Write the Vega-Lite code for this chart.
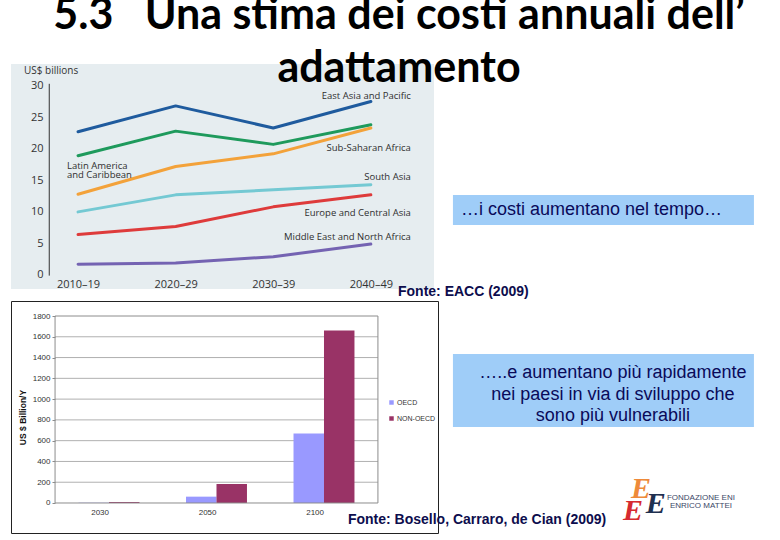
{
  "$schema": "https://vega.github.io/schema/vega-lite/v6.json",
  "padding": {"left": 10, "top": -5, "right": 0, "bottom": 0},
  "background": "white",
  "title": {
    "text": ["5.3\u00a0\u00a0\u00a0Una stima dei costi annuali dell’", "adattamento"],
    "font": "Lato",
    "fontSize": 43,
    "fontWeight": "bold",
    "color": "#000000",
    "lineHeight": 53,
    "anchor": "start",
    "align": "center",
    "frame": "group",
    "dx": 388,
    "offset": -27
  },
  "datasets": {
    "costs": [
      {"region": "East Asia and Pacific", "period": 2010, "value": 22.7},
      {"region": "East Asia and Pacific", "period": 2020, "value": 26.8},
      {"region": "East Asia and Pacific", "period": 2030, "value": 23.3},
      {"region": "East Asia and Pacific", "period": 2040, "value": 27.5},
      {"region": "Sub-Saharan Africa", "period": 2010, "value": 18.9},
      {"region": "Sub-Saharan Africa", "period": 2020, "value": 22.8},
      {"region": "Sub-Saharan Africa", "period": 2030, "value": 20.7},
      {"region": "Sub-Saharan Africa", "period": 2040, "value": 23.8},
      {"region": "Latin America and Caribbean", "period": 2010, "value": 12.8},
      {"region": "Latin America and Caribbean", "period": 2020, "value": 17.2},
      {"region": "Latin America and Caribbean", "period": 2030, "value": 19.2},
      {"region": "Latin America and Caribbean", "period": 2040, "value": 23.3},
      {"region": "South Asia", "period": 2010, "value": 10.0},
      {"region": "South Asia", "period": 2020, "value": 12.7},
      {"region": "South Asia", "period": 2030, "value": 13.5},
      {"region": "South Asia", "period": 2040, "value": 14.3},
      {"region": "Europe and Central Asia", "period": 2010, "value": 6.4},
      {"region": "Europe and Central Asia", "period": 2020, "value": 7.7},
      {"region": "Europe and Central Asia", "period": 2030, "value": 10.8},
      {"region": "Europe and Central Asia", "period": 2040, "value": 12.7},
      {"region": "Middle East and North Africa", "period": 2010, "value": 1.7},
      {"region": "Middle East and North Africa", "period": 2020, "value": 1.9},
      {"region": "Middle East and North Africa", "period": 2030, "value": 2.9},
      {"region": "Middle East and North Africa", "period": 2040, "value": 4.9}
    ],
    "regionLabels": [
      {"region": "East Asia and Pacific", "label": "East Asia and Pacific", "labelValue": 28.4},
      {"region": "Sub-Saharan Africa", "label": "Sub-Saharan Africa", "labelValue": 20.1},
      {"region": "Latin America and Caribbean", "label": "Latin America\nand Caribbean", "labelValue": 17.27},
      {"region": "South Asia", "label": "South Asia", "labelValue": 15.5},
      {"region": "Europe and Central Asia", "label": "Europe and Central Asia", "labelValue": 9.83},
      {"region": "Middle East and North Africa", "label": "Middle East and North Africa", "labelValue": 5.97}
    ],
    "adapt": [
      {"year": "2030", "group": "OECD", "cost": 2},
      {"year": "2030", "group": "NON-OECD", "cost": 9},
      {"year": "2050", "group": "OECD", "cost": 61},
      {"year": "2050", "group": "NON-OECD", "cost": 183},
      {"year": "2100", "group": "OECD", "cost": 670},
      {"year": "2100", "group": "NON-OECD", "cost": 1660}
    ],
    "barTicks": [
      {"tick": 200}, {"tick": 400}, {"tick": 600}, {"tick": 800}, {"tick": 1000},
      {"tick": 1200}, {"tick": 1400}, {"tick": 1600}
    ]
  },
  "bounds": "flush",
  "spacing": 12,
  "resolve": {"scale": {"color": "independent"}},
  "vconcat": [
    {
      "width": 423,
      "height": 225,
      "view": {"fill": "#e6edf0", "stroke": null},
      "layer": [
        {
          "data": {"name": "costs"},
          "mark": {"type": "line", "strokeWidth": 3, "strokeCap": "round", "strokeJoin": "round"},
          "encoding": {
            "x": {
              "field": "period", "type": "quantitative",
              "scale": {"domain": [2003.13, 2046.47], "nice": false, "zero": false},
              "axis": {"orient": "bottom", "offset": -14, "values": [2010, 2020, 2030, 2040], "tickCount": 20,
                "labelExpr": "datum.value + '–' + (datum.value - 1991)",
                "domain": false, "ticks": false, "grid": false, "labelPadding": 3,
                "labelFont": "Open Sans", "labelFontSize": 11, "labelColor": "#333333",
                "labelFlush": false, "labelOverlap": false, "title": null}
            },
            "y": {
              "field": "value", "type": "quantitative",
              "scale": {"domain": [-2.22, 33.44], "nice": false, "zero": false},
              "axis": {"orient": "left", "offset": -38, "values": [0, 5, 10, 15, 20, 25, 30], "tickCount": 20,
                "domain": false, "ticks": false, "grid": false, "labelPadding": 6,
                "labelFont": "Open Sans", "labelFontSize": 11, "labelColor": "#333333",
                "labelOverlap": false, "labelFlush": false, "title": null}
            },
            "color": {
              "field": "region", "type": "nominal",
              "scale": {
                "domain": ["East Asia and Pacific", "Sub-Saharan Africa", "Latin America and Caribbean", "South Asia", "Europe and Central Asia", "Middle East and North Africa"],
                "range": ["#1f5b9e", "#1e9a5c", "#f3a23a", "#74c9d3", "#de3b3b", "#7463b2"]
              },
              "legend": null
            }
          }
        },
        {
          "data": {"values": [{}]},
          "mark": {"type": "rule", "color": "#333333", "strokeWidth": 1},
          "encoding": {"x": {"datum": 2007.05}, "y": {"datum": -0.1}, "y2": {"datum": 30.3}}
        },
        {
          "data": {"name": "regionLabels"},
          "transform": [{"filter": "datum.region !== 'Latin America and Caribbean'"}],
          "mark": {"type": "text", "align": "right", "baseline": "middle", "font": "Open Sans", "fontSize": 9.5, "color": "#2f2f2f"},
          "encoding": {"x": {"datum": 2044.1}, "y": {"field": "labelValue", "type": "quantitative"}, "text": {"field": "label"}}
        },
        {
          "data": {"name": "regionLabels"},
          "transform": [{"filter": "datum.region === 'Latin America and Caribbean'"}],
          "mark": {"type": "text", "align": "left", "baseline": "middle", "font": "Open Sans", "fontSize": 9.5, "color": "#2f2f2f", "lineBreak": "\n", "lineHeight": 8.6},
          "encoding": {"x": {"datum": 2008.86}, "y": {"field": "labelValue", "type": "quantitative"}, "text": {"field": "label"}}
        },
        {
          "data": {"values": [{"note": "US$ billions"}]},
          "mark": {"type": "text", "align": "left", "baseline": "middle", "font": "Open Sans", "fontSize": 10, "color": "#333333"},
          "encoding": {"x": {"datum": 2004.46}, "y": {"datum": 32.33}, "text": {"field": "note"}}
        },
        {
          "data": {"values": [{"note": "Fonte: EACC (2009)"}]},
          "mark": {"type": "text", "align": "left", "baseline": "alphabetic", "font": "Liberation Sans", "fontWeight": "bold", "fontSize": 14, "color": "#0d0d4d"},
          "encoding": {"x": {"datum": 2042.78}, "y": {"datum": -3.33}, "text": {"field": "note"}}
        },
        {
          "data": {"values": [{}]},
          "mark": {"type": "rect", "color": "#9fcdf8"},
          "encoding": {"x": {"datum": 2048.41}, "x2": {"datum": 2079.25}, "y": {"datum": 12.68}, "y2": {"datum": 7.92}}
        },
        {
          "data": {"values": [{"note": "…i costi aumentano nel tempo…"}]},
          "mark": {"type": "text", "align": "left", "baseline": "middle", "font": "Liberation Sans", "fontSize": 18, "color": "#0a0a5a"},
          "encoding": {"x": {"datum": 2049.23}, "y": {"datum": 10.3}, "text": {"field": "note"}}
        },
        {
          "data": {"values": [{}]},
          "mark": {"type": "rect", "color": "#9fcdf8"},
          "encoding": {"x": {"datum": 2048.41}, "x2": {"datum": 2079.25}, "y": {"datum": -12.52}, "y2": {"datum": -24.09}}
        },
        {
          "data": {"values": [{"note": "…..e aumentano più rapidamente\nnei paesi in via di sviluppo che\nsono più vulnerabili"}]},
          "mark": {"type": "text", "align": "center", "baseline": "middle", "font": "Liberation Sans", "fontSize": 18, "color": "#0a0a5a", "lineBreak": "\n", "lineHeight": 21.5},
          "encoding": {"x": {"datum": 2064.8}, "y": {"datum": -15.61}, "text": {"field": "note"}}
        },
        {
          "data": {"values": [{"note": "E"}]},
          "mark": {"type": "text", "align": "center", "baseline": "middle", "font": "Liberation Serif", "fontStyle": "italic", "fontWeight": "bold", "fontSize": 30, "color": "#ee8a3a"},
          "encoding": {"x": {"datum": 2067.67}, "y": {"datum": -33.91}, "text": {"field": "note"}}
        },
        {
          "data": {"values": [{"note": "E"}]},
          "mark": {"type": "text", "align": "center", "baseline": "middle", "font": "Liberation Serif", "fontStyle": "italic", "fontWeight": "bold", "fontSize": 30, "color": "#d62a30"},
          "encoding": {"x": {"datum": 2066.85}, "y": {"datum": -37.4}, "text": {"field": "note"}}
        },
        {
          "data": {"values": [{"note": "E"}]},
          "mark": {"type": "text", "align": "center", "baseline": "middle", "font": "Liberation Serif", "fontStyle": "italic", "fontWeight": "bold", "fontSize": 30, "color": "#1f3050"},
          "encoding": {"x": {"datum": 2069.2}, "y": {"datum": -36.3}, "text": {"field": "note"}}
        },
        {
          "data": {"values": [{"note": "FONDAZIONE ENI\nENRICO MATTEI"}]},
          "mark": {"type": "text", "align": "center", "baseline": "middle", "font": "Liberation Sans", "fontSize": 8, "color": "#3a4766", "lineBreak": "\n", "lineHeight": 8.5},
          "encoding": {"x": {"datum": 2073.82}, "y": {"datum": -35.3}, "text": {"field": "note"}}
        }
      ]
    },
    {
      "width": 427,
      "height": 232,
      "view": {"fill": "white", "stroke": "#222222", "strokeWidth": 1},
      "layer": [
        {
          "data": {"name": "barTicks"},
          "mark": {"type": "rule", "color": "#b0b0b0", "strokeWidth": 1},
          "encoding": {
            "x": {"datum": "2030", "bandPosition": -0.385},
            "x2": {"datum": "2100", "bandPosition": 1.385},
            "y": {"field": "tick", "type": "quantitative"}
          }
        },
        {
          "data": {"name": "adapt"},
          "mark": {"type": "bar"},
          "encoding": {
            "x": {
              "field": "year", "type": "nominal",
              "scale": {"domain": ["2030", "2050", "2100"], "paddingInner": 0.433, "paddingOuter": 0.7026, "align": 0.447},
              "axis": {"offset": -30, "domain": false, "ticks": false, "grid": false, "labelAngle": 0, "labelPadding": 9,
                "labelFont": "Liberation Sans", "labelFontSize": 8, "labelColor": "#333333", "title": null}
            },
            "xOffset": {
              "field": "group", "type": "nominal", "sort": ["OECD", "NON-OECD"],
              "scale": {"paddingInner": 0, "paddingOuter": 0}
            },
            "y": {
              "field": "cost", "type": "quantitative",
              "scale": {"domain": [-288.8, 1944.4], "nice": false, "zero": false},
              "axis": {"offset": -44, "values": [0, 200, 400, 600, 800, 1000, 1200, 1400, 1600, 1800], "tickCount": 30,
                "format": "d", "labelOverlap": false, "labelFlush": false,
                "domain": false, "ticks": true, "tickSize": 3, "tickColor": "#8c8c8c",
                "grid": false, "labelPadding": 2,
                "labelFont": "Liberation Sans", "labelFontSize": 8, "labelColor": "#333333",
                "title": "US $ Billion/Y", "titleFont": "Liberation Sans", "titleFontSize": 8.5,
                "titleFontWeight": "bold", "titleColor": "#111111", "titlePadding": 5}
            },
            "color": {
              "field": "group", "type": "nominal",
              "scale": {"domain": ["OECD", "NON-OECD"], "range": ["#9999ff", "#993366"]},
              "legend": {"title": null, "orient": "none", "legendX": 377, "legendY": 98,
                "symbolType": "square", "symbolSize": 20, "symbolStrokeWidth": 0,
                "labelFont": "Liberation Sans", "labelFontSize": 7, "labelColor": "#333333",
                "rowPadding": 8, "labelOffset": 2}
            }
          }
        },
        {
          "data": {"values": [{}]},
          "mark": {"type": "rect", "fill": null, "fillOpacity": 0, "stroke": "#8c8c8c", "strokeWidth": 1},
          "encoding": {
            "x": {"datum": "2030", "bandPosition": -0.385},
            "x2": {"datum": "2100", "bandPosition": 1.385},
            "y": {"datum": 0},
            "y2": {"datum": 1800}
          }
        },
        {
          "data": {"values": [{"note": "Fonte: Bosello, Carraro, de Cian (2009)"}]},
          "mark": {"type": "text", "align": "left", "baseline": "alphabetic", "font": "Liberation Sans", "fontWeight": "bold", "fontSize": 14, "color": "#0d0d4d"},
          "encoding": {"x": {"datum": "2100", "bandPosition": 0.893}, "y": {"datum": -202}, "text": {"field": "note"}}
        }
      ]
    }
  ],
  "config": {
    "view": {"stroke": null},
    "font": "Liberation Sans"
  }
}
